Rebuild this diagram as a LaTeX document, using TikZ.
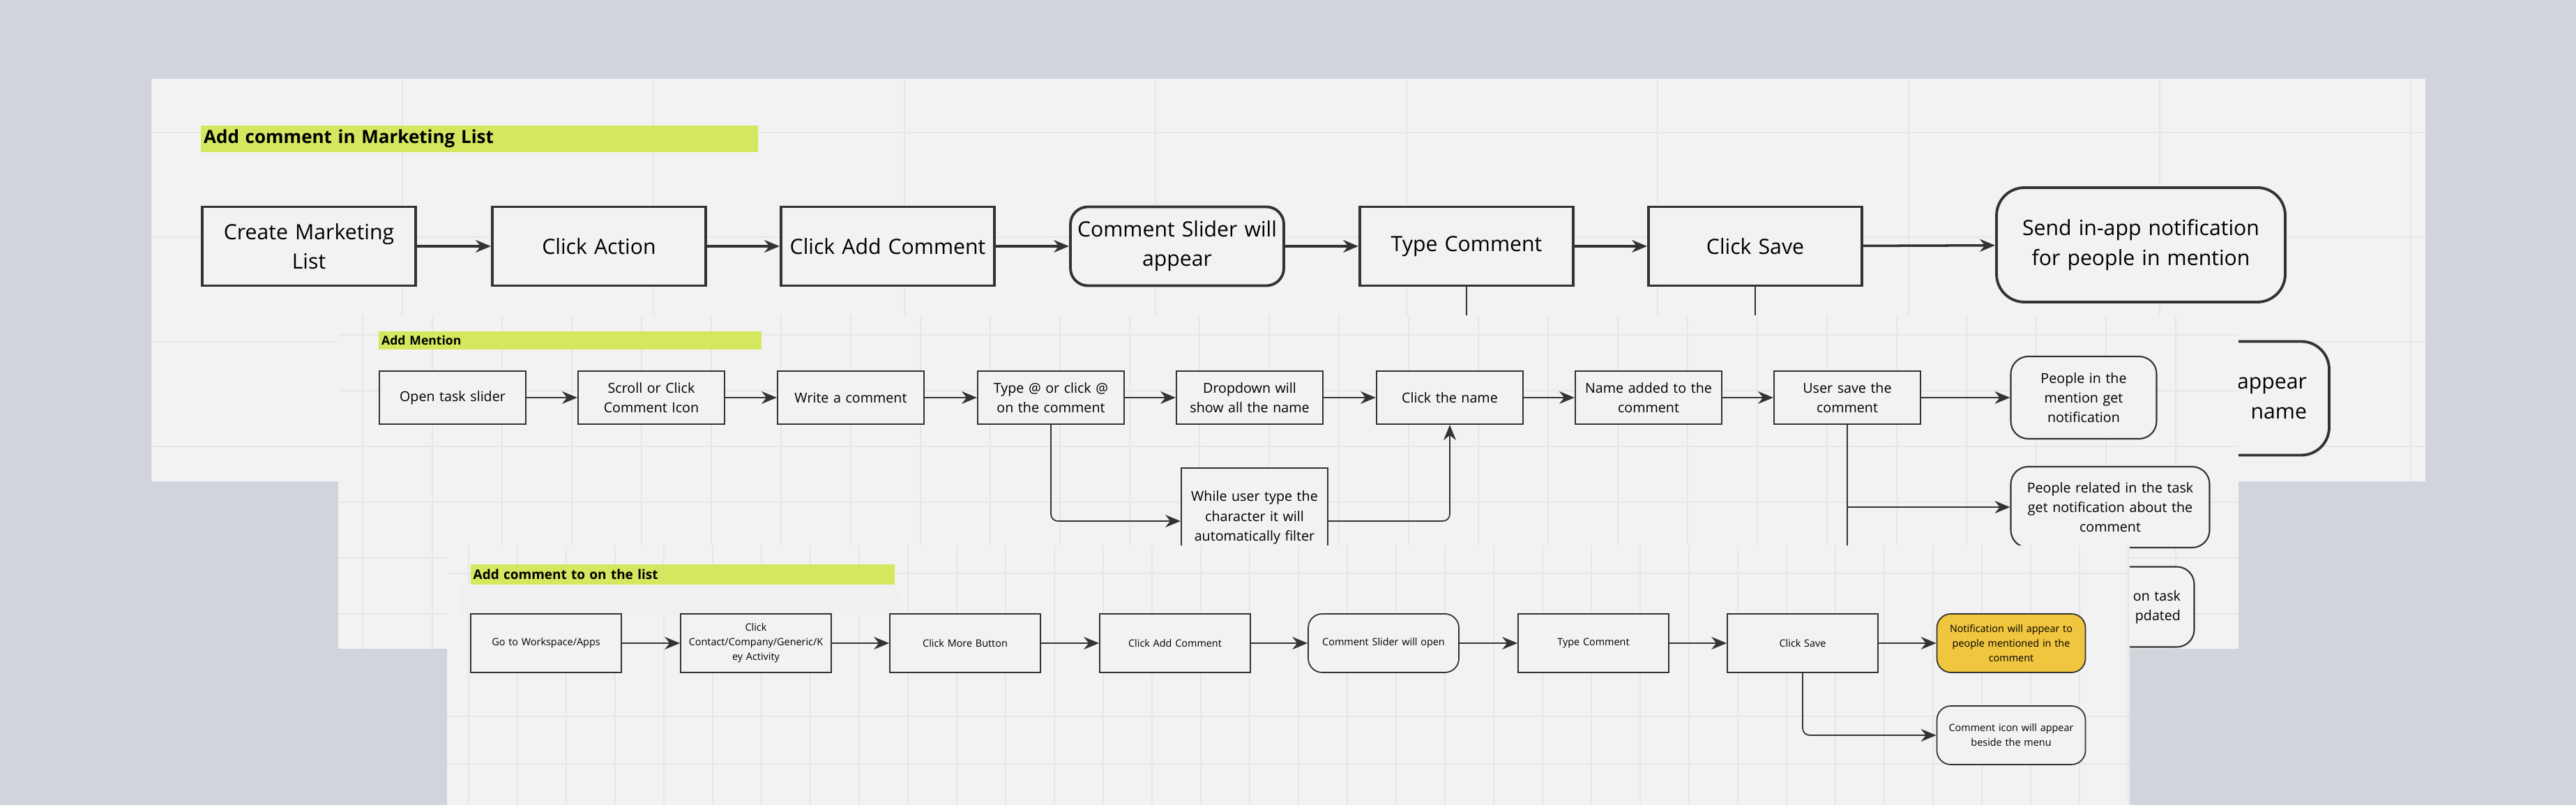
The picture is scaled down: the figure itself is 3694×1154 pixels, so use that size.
\documentclass[tikz,border=0pt]{standalone}
\usepackage{fontspec}
\setmainfont{Open Sans}
\usetikzlibrary{arrows.meta,backgrounds}

\definecolor{pagegray}{HTML}{D1D5DB}
\definecolor{panelgray}{HTML}{F2F2F2}
\definecolor{gridgray}{HTML}{E6E6E6}
\definecolor{limebar}{HTML}{D4E75E}
\definecolor{noteyellow}{HTML}{F0C63F}
\definecolor{inkgray}{HTML}{333333}

\begin{document}
\begin{tikzpicture}[
		x=0.1mm,y=-0.1mm,
		panel/.style={fill=panelgray,draw=none},
		bigbox/.style={
			draw=inkgray,line width=1.1pt,fill=panelgray,align=center,
			minimum width=30.6mm,minimum height=11.3mm,text width=29mm,
			font=\fontsize{8.6}{12}\selectfont,inner sep=0pt,
		},
		midbox/.style={
			draw=inkgray,line width=0.6pt,fill=panelgray,align=center,
			minimum width=21mm,minimum height=7.6mm,text width=19.5mm,
			font=\fontsize{5.6}{8}\selectfont,inner sep=0pt,
		},
		smallbox/.style={
			draw=inkgray,line width=0.5pt,fill=panelgray,align=center,
			minimum width=21.6mm,minimum height=8.4mm,text width=20.5mm,
			font=\fontsize{4.1}{6}\selectfont,inner sep=0pt,
		},
		rounded/.style={rounded corners=2.5mm},
		titlebar/.style={fill=limebar,anchor=north west,inner sep=0pt,font=\bfseries},
		flow/.style={draw=inkgray,-{Stealth[length=2.2mm,width=1.8mm]}},
	]

	% page and panels
	\fill[pagegray] (0,0) rectangle (3694,1154);
	\useasboundingbox (0,0) rectangle (3694,1154);

	%%% panel 1: Add comment in Marketing List
	\fill[panel] (217,113) rectangle (3478,690);
	\begin{scope}
		\clip (217,113) rectangle (3478,690);
		\foreach \gx in {217,577,...,3477} \draw[gridgray,line width=0.8pt] (\gx,113) -- (\gx,690);
		\foreach \gy in {190,340,490,640} \draw[gridgray,line width=0.8pt] (217,\gy) -- (3478,\gy);
	\end{scope}
	\node[titlebar,minimum width=79.9mm,minimum height=3.8mm,text width=79mm,font=\bfseries\fontsize{7.4}{9}\selectfont]
		(titleA) at (287,179) {Add comment in Marketing List};

	\node[bigbox] (create) at (443,353) {Create Marketing\\List};
	\node[bigbox] (action) at (859,353) {Click Action};
	\node[bigbox] (addcmt) at (1273,353) {Click Add Comment};
	\node[bigbox,rounded] (slider) at (1688,353) {Comment Slider will\\appear};
	\node[bigbox] (typecmt) at (2103,353) {Type Comment};
	\node[bigbox] (save) at (2517,353) {Click Save};
	\node[bigbox,rounded,minimum width=41.4mm,minimum height=16.4mm,text width=40mm,rounded corners=4mm]
		(sendnotif) at (3070,351) {Send in-app notification\\for people in mention};
	% only its right end shows beside the Add Mention panel
	\node[bigbox,rounded,minimum width=41.4mm,minimum height=16.3mm,text width=35mm,align=right,rounded corners=4mm]
		(iconname) at (3133,571) {appear\\name};

	\draw[flow,line width=1pt] (create) -- (action);
	\draw[flow,line width=1pt] (action) -- (addcmt);
	\draw[flow,line width=1pt] (addcmt) -- (slider);
	\draw[flow,line width=1pt] (slider) -- (typecmt);
	\draw[flow,line width=1pt] (typecmt) -- (save);
	\draw[flow,line width=1pt] (save) -- (sendnotif);
	\draw[inkgray,line width=0.8pt] (typecmt.south) -- ++(0,60);
	\draw[inkgray,line width=0.8pt] (save.south) -- ++(0,60);

	%%% panel 2: Add Mention
	\fill[panel] (485,452) rectangle (3210,930);
	\begin{scope}
		\clip (485,452) rectangle (3210,930);
		\foreach \gx in {520,620,...,3209} \draw[gridgray,line width=0.6pt] (\gx,452) -- (\gx,930);
		\foreach \gy in {480,560,640,720,800,880} \draw[gridgray,line width=0.6pt] (485,\gy) -- (3210,\gy);
	\end{scope}
	\node[titlebar,minimum width=54.9mm,minimum height=2.6mm,text width=54mm,font=\bfseries\fontsize{5}{6}\selectfont]
		(titleB) at (542,474) {Add Mention};

	\node[midbox] (opentask) at (649,570) {Open task slider};
	\node[midbox] (scroll) at (934,570) {Scroll or Click\\Comment Icon};
	\node[midbox] (write) at (1220,570) {Write a comment};
	\node[midbox] (typeat) at (1507,570) {Type @ or click @\\on the comment};
	\node[midbox] (dropdown) at (1792,570) {Dropdown will\\show all the name};
	\node[midbox] (clickname) at (2079,570) {Click the name};
	\node[midbox] (nameadded) at (2364,570) {Name added to the\\comment};
	\node[midbox] (usersave) at (2649,570) {User save the\\comment};
	\node[midbox,rounded,minimum width=20.9mm,minimum height=11.8mm] (mentioned) at (2988,570)
		{People in the\\mention get\\notification};
	\node[midbox,rounded,minimum width=28.5mm,minimum height=11.6mm,text width=27mm] (related) at (3026,727)
		{People related in the task\\get notification about the\\comment};
	\node[midbox,rounded,minimum width=26.3mm,minimum height=11.5mm,text width=22.4mm,align=right] (activity) at (3015,870)
		{on task\\pdated};
	\node[midbox,minimum height=14.2mm,text width=19.5mm] (filter) at (1799,742)
		{While user type the\\character it will\\automatically filter};

	\draw[flow,line width=0.6pt] (opentask) -- (scroll);
	\draw[flow,line width=0.6pt] (scroll) -- (write);
	\draw[flow,line width=0.6pt] (write) -- (typeat);
	\draw[flow,line width=0.6pt] (typeat) -- (dropdown);
	\draw[flow,line width=0.6pt] (dropdown) -- (clickname);
	\draw[flow,line width=0.6pt] (clickname) -- (nameadded);
	\draw[flow,line width=0.6pt] (nameadded) -- (usersave);
	\draw[flow,line width=0.6pt] (usersave) -- (mentioned);
	\draw[flow,line width=0.5pt,rounded corners=1mm] (typeat.south) |- (filter.west |- 0,747);
	\draw[flow,line width=0.5pt,rounded corners=1mm] (filter.east |- 0,747) -| (clickname.south);
	\draw[flow,line width=0.5pt] (usersave.south) |- (related.west);
	\draw[inkgray,line width=0.5pt] (usersave.south) -- (usersave.south |- 0,782);

	%%% panel 3: Add comment to on the list
	\fill[panel] (641,782) rectangle (3054,1154);
	\begin{scope}
		\clip (641,782) rectangle (3054,1154);
		\foreach \gx in {672,742,...,3054} \draw[gridgray,line width=0.5pt] (\gx,782) -- (\gx,1154);
		\foreach \gy in {822,1027,1095} \draw[gridgray,line width=0.6pt] (641,\gy) -- (3054,\gy);
	\end{scope}
	\fill[gray!12] (660,837) -- (1282,837) -- (1300,880) -- (660,880) -- cycle;
	\node[titlebar,minimum width=60.8mm,minimum height=2.9mm,text width=60mm,font=\bfseries\fontsize{5.4}{6}\selectfont]
		(titleC) at (674,808) {Add comment to on the list};

	\node[smallbox] (workspace) at (783,922) {Go to Workspace/Apps};
	\node[smallbox] (contact) at (1084,922) {Click\\Contact/Company/Generic/K\\ey Activity};
	\node[smallbox] (morebtn) at (1384,922) {Click More Button};
	\node[smallbox] (addcmtlist) at (1685,922) {Click Add Comment};
	\node[smallbox,rounded,rounded corners=2mm] (slideropen) at (1984,922) {Comment Slider will open};
	\node[smallbox] (typelist) at (2285,922) {Type Comment};
	\node[smallbox] (savelist) at (2585,922) {Click Save};
	\node[smallbox,rounded,rounded corners=2mm,fill=noteyellow,minimum width=21.3mm] (notifyappear) at (2884,922)
		{Notification will appear to\\people mentioned in the\\comment};
	\node[smallbox,rounded,rounded corners=2mm,minimum width=21.3mm] (iconmenu) at (2884,1054)
		{Comment icon will appear\\beside the menu};

	\draw[flow,line width=0.7pt] (workspace) -- (contact);
	\draw[flow,line width=0.7pt] (contact) -- (morebtn);
	\draw[flow,line width=0.7pt] (morebtn) -- (addcmtlist);
	\draw[flow,line width=0.7pt] (addcmtlist) -- (slideropen);
	\draw[flow,line width=0.7pt] (slideropen) -- (typelist);
	\draw[flow,line width=0.7pt] (typelist) -- (savelist);
	\draw[flow,line width=0.7pt] (savelist) -- (notifyappear);
	\draw[flow,line width=0.5pt,rounded corners=1mm] (savelist.south) |- (iconmenu.west);

\end{tikzpicture}
\end{document}
